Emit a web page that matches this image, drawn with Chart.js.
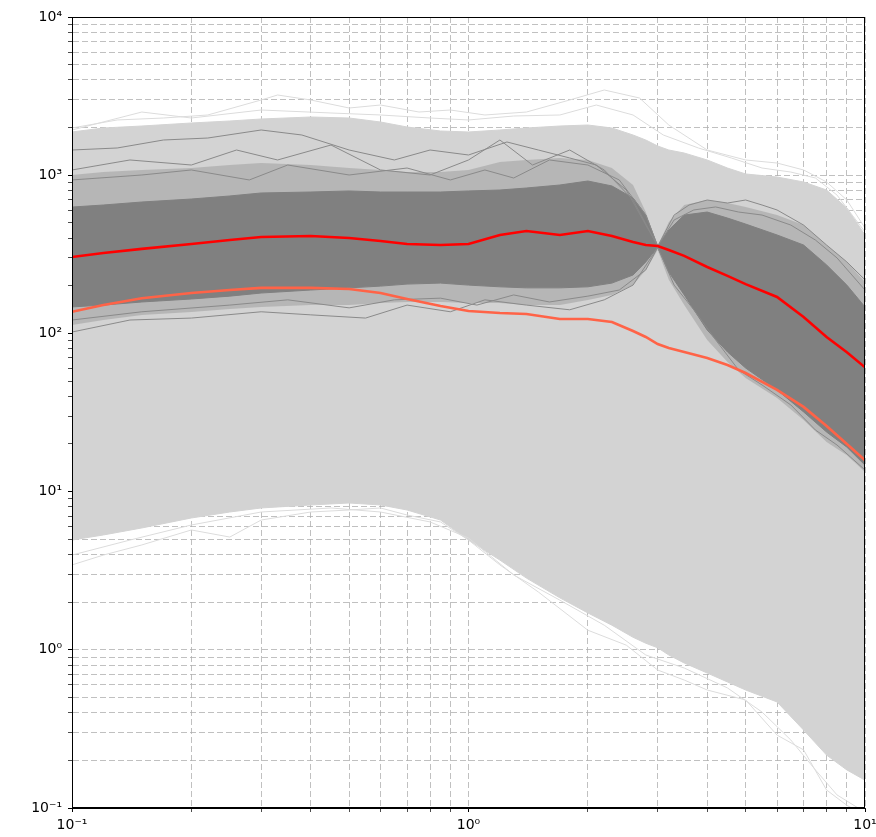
<!DOCTYPE html>
<html>
<head>
<meta charset="utf-8">
<script src="https://cdn.jsdelivr.net/npm/chart.js@4.4.1/dist/chart.umd.min.js"></script>
<style>
  html, body { margin: 0; padding: 0; background: #fff; }
  #wrap { width: 876px; height: 837px; }
</style>
</head>
<body>
<div id="wrap"><canvas id="chart"></canvas></div>
<script>
// shared x grid for the envelopes and the two summary curves
const xs = [0.1, 0.12, 0.15, 0.2, 0.25, 0.3, 0.4, 0.5, 0.6, 0.7, 0.85, 1.0, 1.2, 1.4, 1.7, 2.0, 2.3, 2.6, 2.8, 3.0, 3.2, 3.5, 4, 4.5, 5, 6, 7, 8, 9, 10];

const redLine = [304, 322, 342, 367, 389, 407, 413, 401, 384, 367, 362, 367, 419, 444, 419, 444, 413, 378, 362, 357, 337, 309, 263, 231, 205, 170, 127, 95, 76, 61];
const tomatoLine = [137, 151, 167, 180, 188, 194, 194, 191, 180, 165, 149, 138.5, 134.6, 132.6, 123.3, 123.3, 118, 103.5, 94.9, 85.7, 80.8, 76.3, 69.9, 63.1, 56.2, 43.9, 34.3, 26.0, 20.0, 15.8];

// light grey bundle (all runs)
const lightTop = [1876, 1988, 2046, 2138, 2201, 2266, 2333, 2299, 2169, 2017, 1903, 1876, 1931, 1988, 2046, 2076, 1988, 1795, 1669, 1530, 1443, 1381, 1248, 1110, 1018, 974, 906, 806, 620, 419];
const lightBottom = [4.94, 5.32, 5.89, 6.81, 7.43, 7.88, 8.23, 8.47, 8.23, 7.65, 6.61, 4.94, 3.69, 2.84, 2.13, 1.71, 1.43, 1.20, 1.10, 1.03, 0.927, 0.825, 0.713, 0.626, 0.557, 0.468, 0.311, 0.216, 0.174, 0.150];

// dark grey bundle (selected runs), pinched at x = 3
const darkTop = [629, 648, 677, 707, 739, 772, 783, 795, 783, 783, 783, 795, 806, 830, 867, 919, 855, 718, 560, 355, 450, 560, 585, 536, 491, 419, 362, 271, 202, 147];
const darkBottom = [147, 151, 158, 165, 172, 180, 188, 194, 199, 205, 208, 202, 197, 194, 194, 197, 208, 234, 283, 350, 244, 175, 105, 76.3, 60.4, 43.9, 31.9, 23.8, 19.1, 14.7];

// thinner fringe of the dark bundle, where single runs still overlap
const fringeTop = [1003, 1047, 1079, 1110, 1160, 1194, 1160, 1110, 1079, 1047, 1047, 1079, 1212, 1248, 1285, 1248, 1110, 867, 585, 357, 506, 648, 697, 667, 630, 560, 484, 362, 283, 211];
const fringeBottom = [113, 121.5, 130.7, 136.6, 142.6, 146.9, 151, 151, 155.7, 158, 158, 155.7, 155.7, 151, 151, 162.6, 174.8, 202, 252, 336.6, 218, 151, 90.9, 65.9, 52.3, 39.1, 28.4, 20.6, 17.0, 13.3];

// a few single dark runs that stray outside the dense part
const darkRunAX = [0.1, 0.13, 0.17, 0.22, 0.3, 0.38, 0.5, 0.65, 0.8, 1.0, 1.25, 1.5, 1.8, 2.1, 2.5, 2.8, 3.0];
const darkRunA = [1443, 1486, 1669, 1718, 1931, 1795, 1443, 1248, 1443, 1342, 1622, 1443, 1285, 1160, 806, 484, 357];
const darkRunBX = [0.1, 0.14, 0.2, 0.26, 0.33, 0.45, 0.6, 0.8, 1.0, 1.2, 1.45, 1.8, 2.2, 2.6, 3.0];
const darkRunB = [1079, 1248, 1160, 1443, 1248, 1552, 1079, 1003, 1248, 1669, 1160, 1443, 1079, 697, 357];
const darkRunCX = [0.1, 0.15, 0.2, 0.28, 0.35, 0.5, 0.7, 0.9, 1.1, 1.3, 1.6, 2.0, 2.4, 2.8, 3.0];
const darkRunC = [933, 1003, 1079, 933, 1160, 1003, 1110, 933, 1079, 960, 1248, 1160, 933, 560, 357];
const darkRunDX = [0.1, 0.14, 0.2, 0.3, 0.4, 0.55, 0.7, 0.9, 1.1, 1.4, 1.8, 2.2, 2.6, 3.0];
const darkRunD = [102, 121.5, 125, 137, 131, 125, 151, 137, 163, 151, 141, 163, 202, 350];
const darkRunEX = [0.1, 0.15, 0.25, 0.35, 0.5, 0.65, 0.85, 1.05, 1.3, 1.6, 2.0, 2.4, 2.8, 3.0];
const darkRunE = [121.5, 137, 151, 163, 145, 163, 167, 151, 175, 158, 172, 188, 252, 350];
const darkRunFX = [3.0, 3.3, 3.6, 4.0, 4.5, 5.0, 5.5, 6.0, 7.0, 8.0, 9.0, 10];
const darkRunF = [355, 560, 648, 697, 667, 697, 648, 603, 484, 362, 283, 218];
const darkRunGX = [3.0, 3.3, 3.7, 4.2, 4.8, 5.5, 6.5, 7.5, 8.5, 10];
const darkRunG = [355, 521, 603, 630, 585, 560, 484, 389, 300, 188];
const darkRunHX = [3.0, 3.3, 3.7, 4.2, 4.8, 5.5, 6.5, 7.5, 8.5, 10];
const darkRunH = [350, 202, 141, 91, 58.7, 47.2, 35.3, 24.5, 19.7, 13.7];

// light runs at the edges of the light bundle
const lightRunAX = [0.1, 0.13, 0.17, 0.22, 0.3, 0.33, 0.4, 0.5, 0.6, 0.75, 0.9, 1.1, 1.4, 1.8, 2.2, 2.7, 3.2, 4.0, 5.0, 6.0, 7.0, 8.0, 9.0, 10];
const lightRunA = [1988, 2234, 2299, 2402, 2988, 3214, 2988, 2659, 2778, 2508, 2583, 2402, 2508, 2988, 3456, 3076, 2076, 1443, 1248, 1194, 1079, 906, 697, 464];
const lightRunBX = [0.1, 0.15, 0.2, 0.3, 0.45, 0.6, 0.8, 1.0, 1.3, 1.7, 2.1, 2.6, 3.1, 3.8, 4.6, 5.5, 6.5, 7.5, 8.5, 10];
const lightRunB = [1931, 2508, 2299, 2583, 2473, 2402, 2299, 2234, 2367, 2402, 2778, 2402, 1795, 1486, 1285, 1110, 1047, 960, 749, 438];
const lightRunCX = [0.1, 0.12, 0.15, 0.2, 0.25, 0.3, 0.4, 0.5, 0.6, 0.7, 0.85, 1.0, 1.2, 1.5, 2.0, 2.5, 3.0, 3.5, 4.0, 5.0, 6.0, 7.0, 8.0, 9.0, 10];
const lightRunC = [3.44, 3.97, 4.60, 5.72, 5.16, 6.61, 7.43, 7.65, 7.88, 7.11, 6.43, 4.94, 3.44, 2.32, 1.33, 1.07, 0.745, 0.644, 0.557, 0.482, 0.289, 0.233, 0.130, 0.104, 0.090];
const lightRunDX = [0.1, 0.14, 0.2, 0.3, 0.45, 0.6, 0.8, 1.0, 1.3, 1.7, 2.2, 2.8, 3.5, 4.5, 5.5, 6.5, 7.5, 8.5, 10];
const lightRunD = [3.97, 4.94, 6.15, 7.43, 7.88, 7.43, 6.43, 5.09, 2.97, 2.06, 1.43, 0.927, 0.767, 0.574, 0.404, 0.269, 0.174, 0.121, 0.094];

const pts = (x, y) => x.map((v, i) => ({x: v, y: y[i]}));

function line(data, color, width, order, extra) {
    return Object.assign({
        data,
        borderColor: color,
        borderWidth: width,
        pointRadius: 0,
        tension: 0,
        fill: false,
        order
    }, extra || {});
}

const sup = {'-': '\u207B', '0': '\u2070', '1': '\u00B9', '2': '\u00B2', '3': '\u00B3', '4': '\u2074'};

function powerLabel(v) {
    const e = Math.log10(v);
    const r = Math.round(e);
    if (Math.abs(e - r) > 1e-9) return '';
    return '10' + String(r).split('').map(c => sup[c]).join('');
}

// log scale also makes 1.5, 15, ... ticks; keep only the integer steps
function keepIntegerTicks(scale) {
    scale.ticks = scale.ticks.filter(t => {
        const m = t.value / Math.pow(10, Math.floor(Math.log10(t.value) + 1e-9));
        return Math.abs(m - Math.round(m)) < 1e-6;
    });
}

const frame = {
    id: 'frame',
    afterDatasetsDraw(chart) {
        const {ctx, chartArea: a} = chart;
        ctx.save();
        ctx.strokeStyle = '#000';
        ctx.lineWidth = 1;
        ctx.strokeRect(a.left + 0.5, a.top + 0.5, a.right - a.left - 1, a.bottom - a.top - 1);
        ctx.restore();
    }
};

const gridOpts = {
    color: '#b0b0b0',
    lineWidth: 0.8,
    tickColor: '#000',
    tickLength: 4,
    tickWidth: ctx => (powerLabel(ctx.tick.value) ? 1 : 0.7),
    tickBorderDash: []
};

const axisFont = {family: 'DejaVu Sans', size: 14};
const runGrey = '#8a8a8a';

new Chart(document.getElementById('chart'), {
    type: 'line',
    data: {
        datasets: [
            line(pts(xs, lightTop), '#d3d3d3', 1, 10, {fill: '+1', backgroundColor: '#d3d3d3'}),
            line(pts(xs, lightBottom), '#d3d3d3', 1, 10),
            line(pts(lightRunAX, lightRunA), '#dcdcdc', 1, 9),
            line(pts(lightRunBX, lightRunB), '#dcdcdc', 1, 9),
            line(pts(lightRunCX, lightRunC), '#dcdcdc', 1, 9),
            line(pts(lightRunDX, lightRunD), '#dcdcdc', 1, 9),
            line(pts(xs, fringeTop), 'rgba(128,128,128,0)', 0, 8, {fill: '+1', backgroundColor: 'rgba(128,128,128,0.35)'}),
            line(pts(xs, fringeBottom), 'rgba(128,128,128,0)', 0, 8),
            line(pts(xs, darkTop), '#808080', 1, 6, {fill: '+1', backgroundColor: '#808080'}),
            line(pts(xs, darkBottom), '#808080', 1, 6),
            line(pts(darkRunAX, darkRunA), runGrey, 1, 5),
            line(pts(darkRunBX, darkRunB), runGrey, 1, 5),
            line(pts(darkRunCX, darkRunC), runGrey, 1, 5),
            line(pts(darkRunDX, darkRunD), runGrey, 1, 5),
            line(pts(darkRunEX, darkRunE), runGrey, 1, 5),
            line(pts(darkRunFX, darkRunF), runGrey, 1, 5),
            line(pts(darkRunGX, darkRunG), runGrey, 1, 5),
            line(pts(darkRunHX, darkRunH), runGrey, 1, 5),
            line(pts(xs, tomatoLine), '#ff6347', 2.6, 2),
            line(pts(xs, redLine), '#ff0000', 2.6, 1)
        ]
    },
    options: {
        responsive: true,
        maintainAspectRatio: false,
        animation: false,
        events: [],
        layout: {padding: {top: 17, right: 11, left: 0, bottom: 0}},
        plugins: {
            legend: {display: false},
            tooltip: {enabled: false}
        },
        scales: {
            x: {
                type: 'logarithmic',
                min: 0.1,
                max: 10,
                grid: gridOpts,
                border: {display: true, color: '#000', width: 1, dash: [6, 3]},
                ticks: {
                    autoSkip: false,
                    maxRotation: 0,
                    padding: 5,
                    color: '#000',
                    font: axisFont,
                    callback: v => powerLabel(v)
                },
                afterBuildTicks: keepIntegerTicks,
                afterFit(scale) {
                    scale.height = 29;
                    scale.paddingLeft = 0;
                    scale.paddingRight = 0;
                }
            },
            y: {
                type: 'logarithmic',
                min: 0.1,
                max: 10000,
                grid: gridOpts,
                border: {display: true, color: '#000', width: 1, dash: [6, 3]},
                ticks: {
                    autoSkip: false,
                    padding: 6,
                    color: '#000',
                    font: axisFont,
                    callback: v => powerLabel(v)
                },
                afterBuildTicks: keepIntegerTicks,
                afterFit(scale) {
                    scale.width = 72;
                    scale.paddingTop = 0;
                    scale.paddingBottom = 0;
                }
            }
        }
    },
    plugins: [frame]
});
</script>
</body>
</html>
